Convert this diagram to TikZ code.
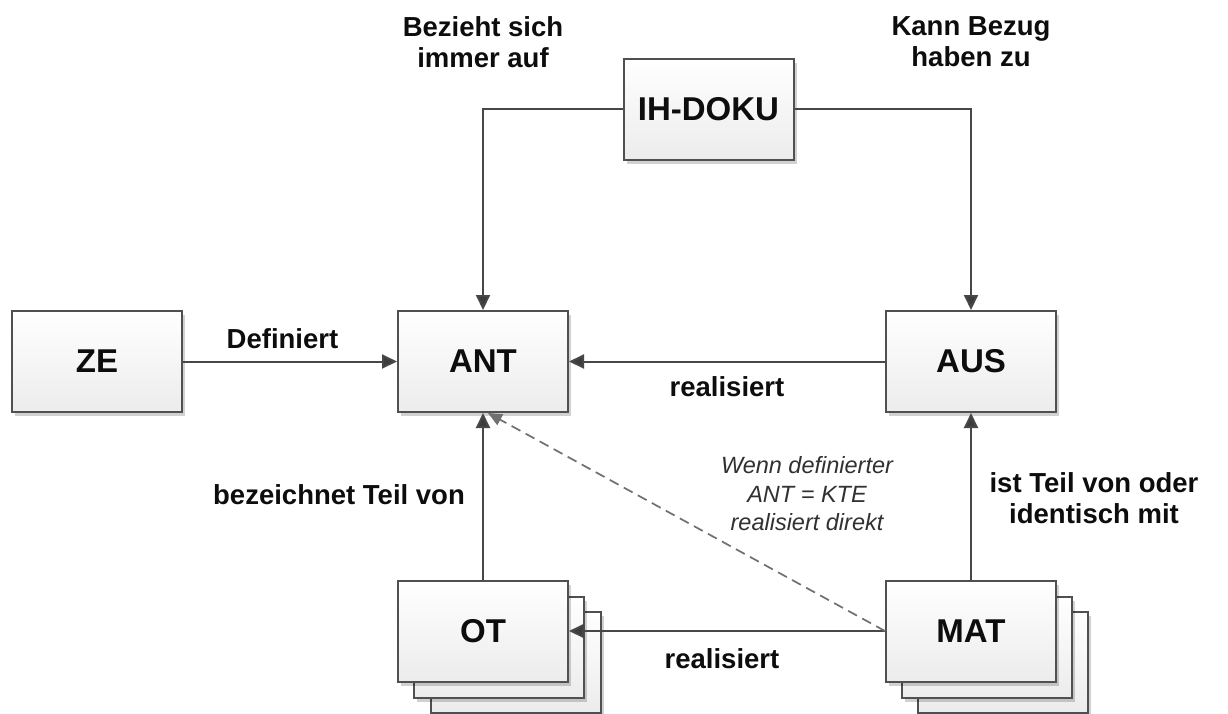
\documentclass[tikz,border=0pt]{standalone}
\usepackage{fontspec}
\setmainfont{Liberation Sans}
\usetikzlibrary{arrows.meta,shadows}

\definecolor{boxline}{HTML}{505050}
\definecolor{boxbot}{HTML}{ECECEC}
\definecolor{wire}{HTML}{474747}
\definecolor{tip}{HTML}{3C3C3C}
\definecolor{dashwire}{HTML}{707070}
\definecolor{ink}{HTML}{0D0D0D}

\tikzset{
  entity/.style={draw=boxline, line width=2pt, top color=white, bottom color=boxbot,
    minimum width=170pt, minimum height=101pt, inner sep=0pt, text=ink,
    font=\bfseries\fontsize{33}{38}\selectfont,
    drop shadow={shadow xshift=3pt, shadow yshift=-4pt, opacity=0.18, fill=black}},
  backsheet/.style={entity},
  rel/.style={text=ink, align=center, inner sep=0pt, font=\bfseries\fontsize{27.5}{31}\selectfont},
  note/.style={text=ink!85, align=center, inner sep=0pt, font=\itshape\fontsize{23.5}{28.5}\selectfont},
  link/.style={draw=wire, line width=2pt, -{Triangle[length=15pt,width=14pt,fill=tip]}},
  weak/.style={draw=dashwire, line width=1.7pt, dash pattern=on 10pt off 6pt,
    -{Triangle[length=14pt,width=12pt,fill=dashwire]}}
}

\begin{document}
\begin{tikzpicture}[x=1pt,y=-1pt]
  \useasboundingbox[fill=white] (0,0) rectangle (1228,713);

  % main entities
  \node[entity] (ih)  at (708.5,109) {IH-DOKU};
  \node[entity] (ze)  at (97,361.5)  {ZE};
  \node[entity] (ant) at (483,361.5) {ANT};
  \node[entity] (aus) at (971,361.5) {AUS};

  % stacked entities: back sheets first
  \node[backsheet] (ot3) at (516,662) {};
  \node[backsheet] (ot2) at (499,647) {};
  \node[entity]    (ot)  at (483,631) {OT};
  \node[backsheet] (mat3) at (1003,662) {};
  \node[backsheet] (mat2) at (987,647) {};
  \node[entity]    (mat)  at (971,631) {MAT};

  % relations
  \draw[link] (ih.west) -| (ant.north);
  \draw[link] (ih.east) -| (aus.north);
  \draw[link] (ze.east) -- (ant.west);
  \draw[link] (aus.west) -- (ant.east);
  \draw[link] (ot.north) -- (ant.south);
  \draw[link] (mat.north) -- (aus.south);
  \draw[link] (mat.west) -- (ot.east);
  \draw[weak] (mat.west) -- ([xshift=5pt]ant.south);

  % relation labels
  \node[rel] (l1) at (483,42)  {Bezieht sich\\immer auf};
  \node[rel] (l2) at (971,42)  {Kann Bezug\\haben zu};
  \node[rel] (l3) at (282.5,339) {Definiert};
  \node[rel] (l4) at (727,387) {realisiert};
  \node[rel] (l5) at (339,495) {bezeichnet Teil von};
  \node[rel] (l6) at (1094,498) {ist Teil von oder\\identisch mit};
  \node[rel] (l7) at (722,659) {realisiert};
  \node[note] (l8) at (807,494) {Wenn definierter\\ANT = KTE\\realisiert direkt};
\end{tikzpicture}
\end{document}
